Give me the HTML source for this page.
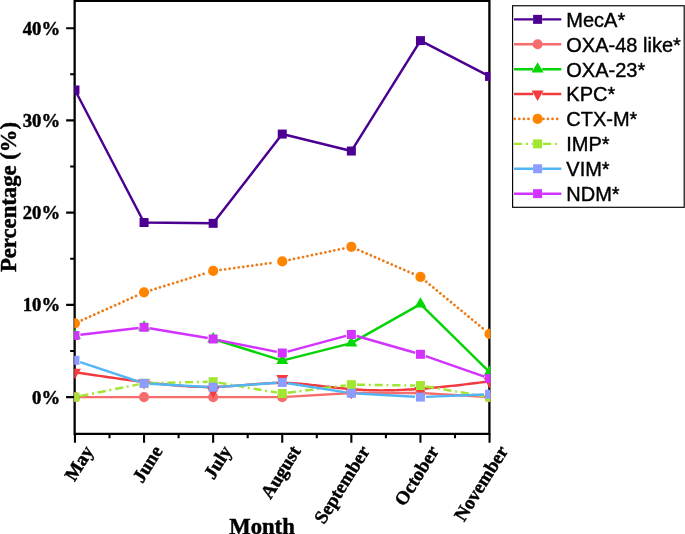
<!DOCTYPE html>
<html><head><meta charset="utf-8"><style>
html,body{margin:0;padding:0;background:#fff;width:685px;height:534px;overflow:hidden}
svg{display:block;will-change:transform}
</style></head><body>
<svg width="685" height="534" viewBox="0 0 685 534">
<defs><clipPath id="pc"><rect x="74.2" y="1.9" width="416.10" height="431.10"/></clipPath></defs>
<rect width="685" height="534" fill="#fff"/>
<path d="M74.65,433.85V0.75H489.4V433.85Z" fill="none" stroke="#000" stroke-width="2.3" stroke-linejoin="miter"/>
<path d="M66.15,397.10H74.65M66.15,304.87H74.65M66.15,212.64H74.65M66.15,120.41H74.65M66.15,28.18H74.65M70.15,350.99H74.65M70.15,258.75H74.65M70.15,166.53H74.65M70.15,74.30H74.65M74.95,433.85V442.65M144.05,433.85V442.65M213.15,433.85V442.65M282.25,433.85V442.65M351.35,433.85V442.65M420.45,433.85V442.65M489.55,433.85V442.65M109.50,433.85V438.35M178.60,433.85V438.35M247.70,433.85V438.35M316.80,433.85V438.35M385.90,433.85V438.35M455.00,433.85V438.35" stroke="#000" stroke-width="2.1" fill="none"/>
<g clip-path="url(#pc)">
<path d="M74.95,89.97L144.05,222.51M144.05,222.51L213.15,223.34M213.15,223.34L282.25,134.06M282.25,134.06L351.35,151.03M351.35,151.03L420.45,40.63M420.45,40.63L489.55,76.42" fill="none" stroke="#4B0092" stroke-width="2.45"/>
<rect x="70.45" y="85.47" width="9.0" height="9.0" fill="#4B0092"/>
<rect x="139.55" y="218.01" width="9.0" height="9.0" fill="#4B0092"/>
<rect x="208.65" y="218.84" width="9.0" height="9.0" fill="#4B0092"/>
<rect x="277.75" y="129.56" width="9.0" height="9.0" fill="#4B0092"/>
<rect x="346.85" y="146.53" width="9.0" height="9.0" fill="#4B0092"/>
<rect x="415.95" y="36.13" width="9.0" height="9.0" fill="#4B0092"/>
<rect x="485.05" y="71.92" width="9.0" height="9.0" fill="#4B0092"/>
<path d="M74.95,397.10L144.05,397.10M144.05,397.10L213.15,397.10M213.15,397.10L282.25,397.10M282.25,397.10L351.35,392.95M351.35,392.95L420.45,392.95M420.45,392.95L489.55,397.10" fill="none" stroke="#F76C6C" stroke-width="2.45"/>
<circle cx="74.95" cy="397.10" r="5.1" fill="#F76C6C"/>
<circle cx="144.05" cy="397.10" r="5.1" fill="#F76C6C"/>
<circle cx="213.15" cy="397.10" r="5.1" fill="#F76C6C"/>
<circle cx="282.25" cy="397.10" r="5.1" fill="#F76C6C"/>
<circle cx="351.35" cy="392.95" r="5.1" fill="#F76C6C"/>
<circle cx="420.45" cy="392.95" r="5.1" fill="#F76C6C"/>
<circle cx="489.55" cy="397.10" r="5.1" fill="#F76C6C"/>
<path d="M213.15,339.00L282.25,360.58M282.25,360.58L351.35,343.15M351.35,343.15L420.45,304.13M420.45,304.13L489.55,372.20" fill="none" stroke="#08D208" stroke-width="2.45"/>
<polygon points="74.95,328.56 68.95,338.95 80.95,338.95" fill="#04D804"/>
<polygon points="144.05,320.35 138.05,330.75 150.05,330.75" fill="#04D804"/>
<polygon points="213.15,332.07 207.15,342.46 219.15,342.46" fill="#04D804"/>
<polygon points="282.25,353.65 276.25,364.04 288.25,364.04" fill="#04D804"/>
<polygon points="351.35,336.22 345.35,346.61 357.35,346.61" fill="#04D804"/>
<polygon points="420.45,297.20 414.45,307.60 426.45,307.60" fill="#04D804"/>
<polygon points="489.55,365.27 483.55,375.66 495.55,375.66" fill="#04D804"/>
<path d="M74.95,372.29L80.10,373.06L85.12,373.80L90.02,374.53L94.79,375.23L99.44,375.91L103.98,376.56L108.40,377.20L112.71,377.81L116.91,378.40L121.00,378.97L124.99,379.52L128.88,380.05L132.67,380.56L136.36,381.05L139.96,381.51L143.48,381.96L146.90,382.38L150.24,382.79L153.50,383.18L156.68,383.54L159.78,383.89L162.81,384.22L165.77,384.52L168.66,384.81L171.49,385.08L174.25,385.33L176.96,385.57L179.61,385.78L182.20,385.98L184.74,386.15L187.23,386.31L189.68,386.46L192.09,386.58L194.45,386.69L196.77,386.78L199.07,386.85L201.32,386.90L203.55,386.94L205.76,386.96L207.93,386.97L210.09,386.96L212.23,386.93L214.34,386.89L216.44,386.84L218.51,386.77L220.57,386.69L222.61,386.60L224.63,386.50L226.63,386.39L228.61,386.27L230.58,386.14L232.54,386.01L234.48,385.87L236.40,385.73L238.31,385.58L240.21,385.43L242.09,385.27L243.96,385.11L245.82,384.95L247.67,384.80L249.51,384.64L251.34,384.48L253.16,384.33L254.96,384.18L256.76,384.03L258.56,383.89L260.34,383.75L262.12,383.62L263.89,383.50L265.66,383.38L267.42,383.28L269.17,383.18L270.93,383.10L272.67,383.02L274.42,382.96L276.16,382.92L277.90,382.88L279.64,382.86L281.38,382.86L283.12,382.87L284.86,382.91L286.60,382.95L288.34,383.01L290.08,383.09L291.83,383.18L293.57,383.28L295.33,383.40L297.08,383.53L298.84,383.67L300.61,383.82L302.38,383.98L304.16,384.14L305.94,384.32L307.74,384.50L309.54,384.70L311.34,384.89L313.16,385.10L314.99,385.30L316.83,385.51L318.68,385.73L320.54,385.95L322.41,386.17L324.29,386.39L326.19,386.61L328.10,386.83L330.02,387.05L331.96,387.27L333.92,387.49L335.89,387.71L337.87,387.92L339.87,388.12L341.89,388.32L343.93,388.52L345.99,388.71L348.06,388.89L350.16,389.07L352.27,389.24L354.41,389.39L356.57,389.54L358.74,389.68L360.95,389.80L363.18,389.92L365.43,390.02L367.73,390.11L370.05,390.19L372.41,390.25L374.82,390.30L377.27,390.33L379.76,390.35L382.30,390.35L384.89,390.34L387.54,390.31L390.25,390.26L393.01,390.20L395.84,390.12L398.73,390.01L401.69,389.89L404.72,389.75L407.82,389.59L411.00,389.41L414.26,389.21L417.60,388.98L421.02,388.74L424.54,388.47L428.14,388.17L431.83,387.85L435.62,387.51L439.51,387.15L443.50,386.76L447.59,386.34L451.79,385.89L456.10,385.42L460.52,384.92L465.06,384.40L469.71,383.84L474.48,383.26L479.38,382.65L484.40,382.00L489.55,381.33" fill="none" stroke="#F03A3E" stroke-width="2.45"/>
<polygon points="74.95,379.22 68.95,368.83 80.95,368.83" fill="#F43B3F"/>
<polygon points="144.05,389.55 138.05,379.16 150.05,379.16" fill="#F43B3F"/>
<polygon points="213.15,398.22 207.15,387.83 219.15,387.83" fill="#F43B3F"/>
<polygon points="282.25,385.31 276.25,374.91 288.25,374.91" fill="#F43B3F"/>
<polygon points="351.35,399.32 345.35,388.93 357.35,388.93" fill="#F43B3F"/>
<polygon points="420.45,397.39 414.45,387.00 426.45,387.00" fill="#F43B3F"/>
<polygon points="489.55,388.26 483.55,377.86 495.55,377.86" fill="#F43B3F"/>
<path d="M81.79,320.25L137.21,295.40M151.21,290.11L205.99,273.15M220.58,269.91L274.82,262.45M289.59,259.88L344.01,248.40M358.23,249.85L413.57,273.93M426.24,281.70L483.76,329.15" fill="none" stroke="#EC7C18" stroke-dasharray="0.01 4.56" stroke-linecap="round" stroke-width="2.8"/>
<circle cx="74.95" cy="323.32" r="5.1" fill="#FF8400"/>
<circle cx="144.05" cy="292.33" r="5.1" fill="#FF8400"/>
<circle cx="213.15" cy="270.93" r="5.1" fill="#FF8400"/>
<circle cx="282.25" cy="261.43" r="5.1" fill="#FF8400"/>
<circle cx="351.35" cy="246.86" r="5.1" fill="#FF8400"/>
<circle cx="420.45" cy="276.92" r="5.1" fill="#FF8400"/>
<circle cx="489.55" cy="333.92" r="5.1" fill="#FF8400"/>
<path d="M80.34,396.02L138.66,384.35M149.55,383.14L207.65,381.82M218.57,382.62L276.83,392.58M287.71,392.80L345.89,385.35M356.85,384.72L414.95,385.50M425.88,386.48L484.12,396.19" fill="none" stroke="#A1E631" stroke-width="2.45" stroke-dasharray="8.2 3.7 2 3.8"/>
<rect x="70.45" y="392.60" width="9.0" height="9.0" fill="#A1E631"/>
<rect x="139.55" y="378.77" width="9.0" height="9.0" fill="#A1E631"/>
<rect x="208.65" y="377.20" width="9.0" height="9.0" fill="#A1E631"/>
<rect x="277.75" y="389.00" width="9.0" height="9.0" fill="#A1E631"/>
<rect x="346.85" y="380.15" width="9.0" height="9.0" fill="#A1E631"/>
<rect x="415.95" y="381.07" width="9.0" height="9.0" fill="#A1E631"/>
<rect x="485.05" y="392.60" width="9.0" height="9.0" fill="#A1E631"/>
<path d="M80.17,362.04L138.83,381.62M149.54,383.67L207.66,386.92M218.64,386.85L276.76,382.82M287.68,383.28L345.92,392.38M356.84,393.53L414.96,396.79M425.95,396.87L484.05,394.47" fill="none" stroke="#52B5F5" stroke-width="2.45"/>
<rect x="70.45" y="355.80" width="9.0" height="9.0" fill="#8C9CFF"/>
<rect x="139.55" y="378.86" width="9.0" height="9.0" fill="#8C9CFF"/>
<rect x="208.65" y="382.73" width="9.0" height="9.0" fill="#8C9CFF"/>
<rect x="277.75" y="377.94" width="9.0" height="9.0" fill="#8C9CFF"/>
<rect x="346.85" y="388.73" width="9.0" height="9.0" fill="#8C9CFF"/>
<rect x="415.95" y="392.60" width="9.0" height="9.0" fill="#8C9CFF"/>
<rect x="485.05" y="389.74" width="9.0" height="9.0" fill="#8C9CFF"/>
<path d="M80.41,334.84L138.59,327.93M149.47,328.20L207.73,338.08M218.54,340.09L276.86,351.92M287.56,351.59L346.04,335.90M356.64,335.99L415.16,352.79M425.64,356.12L484.36,376.65" fill="none" stroke="#D333FF" stroke-width="2.45"/>
<rect x="70.45" y="330.99" width="9.0" height="9.0" fill="#D333FF"/>
<rect x="139.55" y="322.78" width="9.0" height="9.0" fill="#D333FF"/>
<rect x="208.65" y="334.50" width="9.0" height="9.0" fill="#D333FF"/>
<rect x="277.75" y="348.51" width="9.0" height="9.0" fill="#D333FF"/>
<rect x="346.85" y="329.98" width="9.0" height="9.0" fill="#D333FF"/>
<rect x="415.95" y="349.81" width="9.0" height="9.0" fill="#D333FF"/>
<rect x="485.05" y="373.97" width="9.0" height="9.0" fill="#D333FF"/>
</g>
<text x="60.1" y="403.60" font-family="Liberation Serif, serif" font-weight="bold" stroke="#000" stroke-width="0.45" font-size="18.7" text-anchor="end">0%</text>
<text x="60.1" y="311.37" font-family="Liberation Serif, serif" font-weight="bold" stroke="#000" stroke-width="0.45" font-size="18.7" text-anchor="end">10%</text>
<text x="60.1" y="219.14" font-family="Liberation Serif, serif" font-weight="bold" stroke="#000" stroke-width="0.45" font-size="18.7" text-anchor="end">20%</text>
<text x="60.1" y="126.91" font-family="Liberation Serif, serif" font-weight="bold" stroke="#000" stroke-width="0.45" font-size="18.7" text-anchor="end">30%</text>
<text x="60.1" y="34.68" font-family="Liberation Serif, serif" font-weight="bold" stroke="#000" stroke-width="0.45" font-size="18.7" text-anchor="end">40%</text>
<text transform="translate(15.8,197) rotate(-90)" font-family="Liberation Serif, serif" font-weight="bold" stroke="#000" stroke-width="0.45" font-size="22.7" text-anchor="middle">Percentage (%)</text>
<text x="262" y="533.5" font-family="Liberation Serif, serif" font-weight="bold" stroke="#000" stroke-width="0.45" font-size="22.7" text-anchor="middle">Month</text>
<text transform="translate(88.45,447.3) rotate(-58)" font-family="Liberation Serif, serif" font-weight="bold" stroke="#000" stroke-width="0.45" font-size="19" text-anchor="end" dy="0.35em">May</text>
<text transform="translate(157.55,447.3) rotate(-58)" font-family="Liberation Serif, serif" font-weight="bold" stroke="#000" stroke-width="0.45" font-size="19" text-anchor="end" dy="0.35em">June</text>
<text transform="translate(226.65,447.3) rotate(-58)" font-family="Liberation Serif, serif" font-weight="bold" stroke="#000" stroke-width="0.45" font-size="19" text-anchor="end" dy="0.35em">July</text>
<text transform="translate(295.75,447.3) rotate(-58)" font-family="Liberation Serif, serif" font-weight="bold" stroke="#000" stroke-width="0.45" font-size="19" text-anchor="end" dy="0.35em">August</text>
<text transform="translate(364.85,447.3) rotate(-58)" font-family="Liberation Serif, serif" font-weight="bold" stroke="#000" stroke-width="0.45" font-size="19" text-anchor="end" dy="0.35em">September</text>
<text transform="translate(433.95,447.3) rotate(-58)" font-family="Liberation Serif, serif" font-weight="bold" stroke="#000" stroke-width="0.45" font-size="19" text-anchor="end" dy="0.35em">October</text>
<text transform="translate(503.05,447.3) rotate(-58)" font-family="Liberation Serif, serif" font-weight="bold" stroke="#000" stroke-width="0.45" font-size="19" text-anchor="end" dy="0.35em">November</text>
<rect x="512.6" y="5.75" width="171.6" height="201.55" fill="#fff" stroke="#000" stroke-width="1.15"/>
<path d="M514,19.35H533M542.2,19.35H561.3" stroke="#4B0092" stroke-width="2.45"/>
<rect x="533.10" y="14.85" width="9.0" height="9.0" fill="#4B0092"/>
<text x="566.3" y="26.75" font-family="Liberation Sans, sans-serif" font-size="20" stroke="#000" stroke-width="0.4">MecA*</text>
<path d="M514,44.25H533M542.2,44.25H561.3" stroke="#F76C6C" stroke-width="2.45"/>
<circle cx="537.60" cy="44.25" r="5.1" fill="#F76C6C"/>
<text x="566.3" y="51.65" font-family="Liberation Sans, sans-serif" font-size="20" stroke="#000" stroke-width="0.4">OXA-48 like*</text>
<path d="M514,69.15H533M542.2,69.15H561.3" stroke="#08D208" stroke-width="2.45"/>
<polygon points="537.60,62.22 531.60,72.61 543.60,72.61" fill="#04D804"/>
<text x="566.3" y="76.55" font-family="Liberation Sans, sans-serif" font-size="20" stroke="#000" stroke-width="0.4">OXA-23*</text>
<path d="M514,94.05H533M542.2,94.05H561.3" stroke="#F03A3E" stroke-width="2.45"/>
<polygon points="537.60,100.98 531.60,90.59 543.60,90.59" fill="#F43B3F"/>
<text x="566.3" y="101.45" font-family="Liberation Sans, sans-serif" font-size="20" stroke="#000" stroke-width="0.4">KPC*</text>
<path d="M514.75,118.95H533M543.4,118.95H561.3" stroke="#EC7C18" stroke-width="2.8" stroke-dasharray="0.01 4.56" stroke-linecap="round"/>
<circle cx="537.60" cy="118.95" r="5.1" fill="#FF8400"/>
<text x="566.3" y="126.35" font-family="Liberation Sans, sans-serif" font-size="20" stroke="#000" stroke-width="0.4">CTX-M*</text>
<path d="M514,143.85H533M543,143.85H558" stroke="#A1E631" stroke-width="2.45" stroke-dasharray="8.2 3.7 2 3.8"/>
<rect x="533.10" y="139.35" width="9.0" height="9.0" fill="#A1E631"/>
<text x="566.3" y="151.25" font-family="Liberation Sans, sans-serif" font-size="20" stroke="#000" stroke-width="0.4">IMP*</text>
<path d="M514,168.75H533M542.2,168.75H561.3" stroke="#52B5F5" stroke-width="2.45"/>
<rect x="533.10" y="164.25" width="9.0" height="9.0" fill="#8C9CFF"/>
<text x="566.3" y="176.15" font-family="Liberation Sans, sans-serif" font-size="20" stroke="#000" stroke-width="0.4">VIM*</text>
<path d="M514,193.65H533M542.2,193.65H561.3" stroke="#D333FF" stroke-width="2.45"/>
<rect x="533.10" y="189.15" width="9.0" height="9.0" fill="#D333FF"/>
<text x="566.3" y="201.05" font-family="Liberation Sans, sans-serif" font-size="20" stroke="#000" stroke-width="0.4">NDM*</text>
</svg>
</body></html>
